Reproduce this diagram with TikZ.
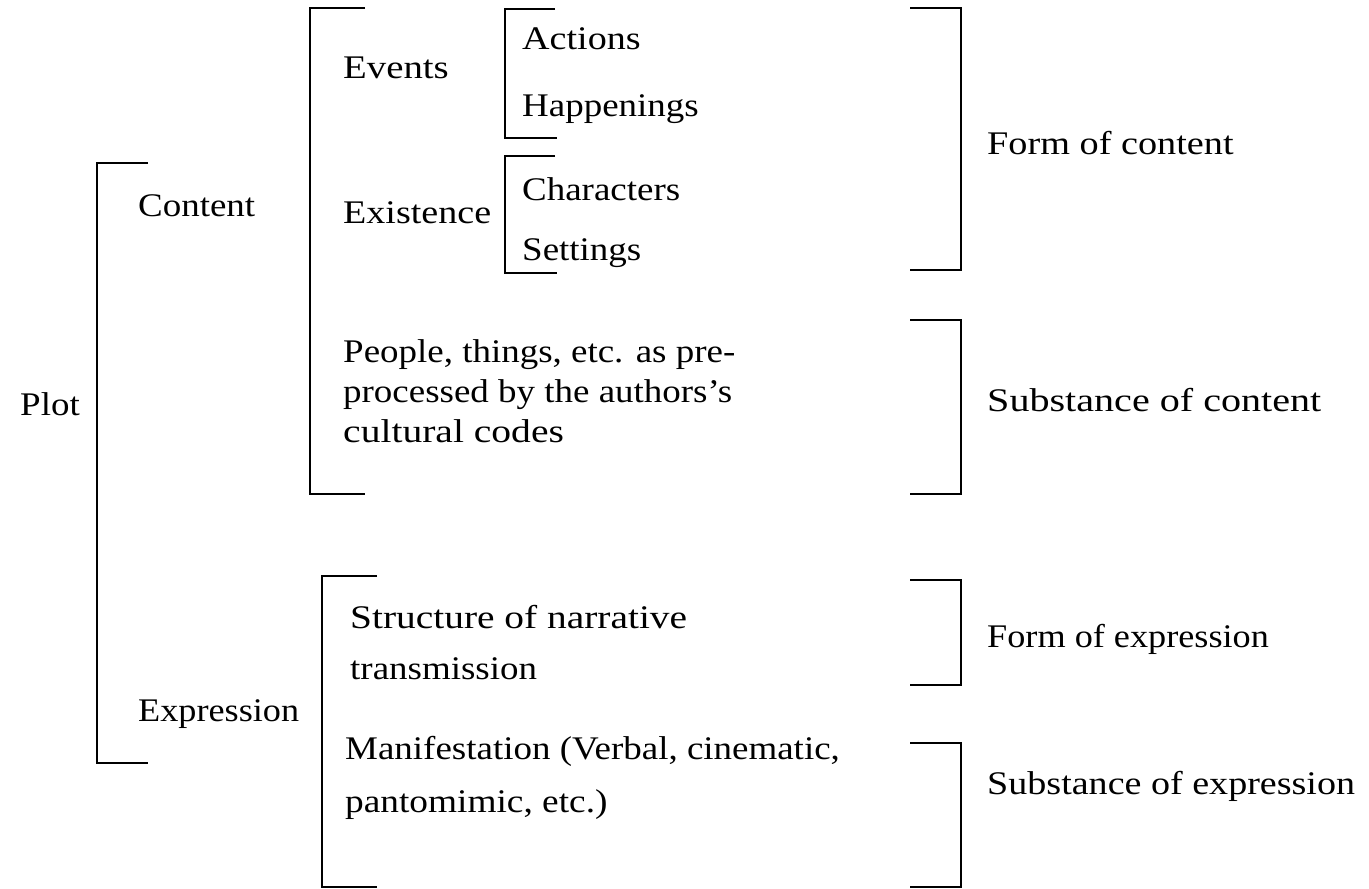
\documentclass[tikz,border=0pt]{standalone}
\usepackage{graphicx}
\usepackage{fontspec}
\setmainfont{Liberation Serif}[FakeStretch=1.12]
% horizontally widened text
\newcommand{\wider}[2]{\scalebox{#1}[1]{#2}}
\begin{document}
\begin{tikzpicture}[x=1pt,y=-1pt,
  lbl/.style={anchor=base west,inner sep=0pt,font=\fontsize{33}{42}\selectfont},
  brk/.style={line width=2.8pt,line cap=butt,line join=miter}]
\useasboundingbox (0,0) rectangle (1369,889);
% left-hand square brackets
\draw[brk] (148,163) -- (97,163) -- (97,763) -- (148,763);
\draw[brk] (365,8) -- (310,8) -- (310,494) -- (365,494);
\draw[brk] (555,9) -- (505,9) -- (505,138) -- (557,138);
\draw[brk] (555,156) -- (505,156) -- (505,273) -- (557,273);
\draw[brk] (377,576) -- (322,576) -- (322,887) -- (377,887);
% right-hand square brackets
\draw[brk] (910,8) -- (961,8) -- (961,270) -- (910,270);
\draw[brk] (910,320) -- (961,320) -- (961,494) -- (910,494);
\draw[brk] (910,580) -- (961,580) -- (961,685) -- (910,685);
\draw[brk] (910,743) -- (961,743) -- (961,887) -- (910,887);
% labels
\node[lbl] (plot) at (20,415) {Plot};
\node[lbl] (content) at (138,216) {Content};
\node[lbl] (expression) at (138,721) {\wider{0.98}{Expression}};
\node[lbl] (events) at (343,78) {\wider{1.05}{Events}};
\node[lbl] (existence) at (343,223) {\wider{1.03}{Existence}};
\node[lbl] (actions) at (522,49) {\wider{1.03}{Actions}};
\node[lbl] (happenings) at (522,116) {Happenings};
\node[lbl] (characters) at (522,200) {Characters};
\node[lbl] (settings) at (522,260) {Settings};
\node[lbl] (people1) at (343,362) {People, things, etc. as pre-};
\node[lbl] (people2) at (343,402) {processed by the authors's};
\node[lbl] (people3) at (343,442) {\wider{1.07}{cultural codes}};
\node[lbl] (struct1) at (350,628) {\wider{1.066}{Structure of narrative}};
\node[lbl] (struct2) at (350,679) {transmission};
\node[lbl] (manif1) at (345,759) {Manifestation (Verbal, cinematic,};
\node[lbl] (manif2) at (345,812) {\wider{1.01}{pantomimic, etc.)}};
\node[lbl] (formc) at (987,154) {\wider{1.035}{Form of content}};
\node[lbl] (substc) at (987,411) {\wider{1.085}{Substance of content}};
\node[lbl] (forme) at (987,647) {\wider{0.98}{Form of expression}};
\node[lbl] (subste) at (987,794) {\wider{1.03}{Substance of expression}};
\end{tikzpicture}
\end{document}
